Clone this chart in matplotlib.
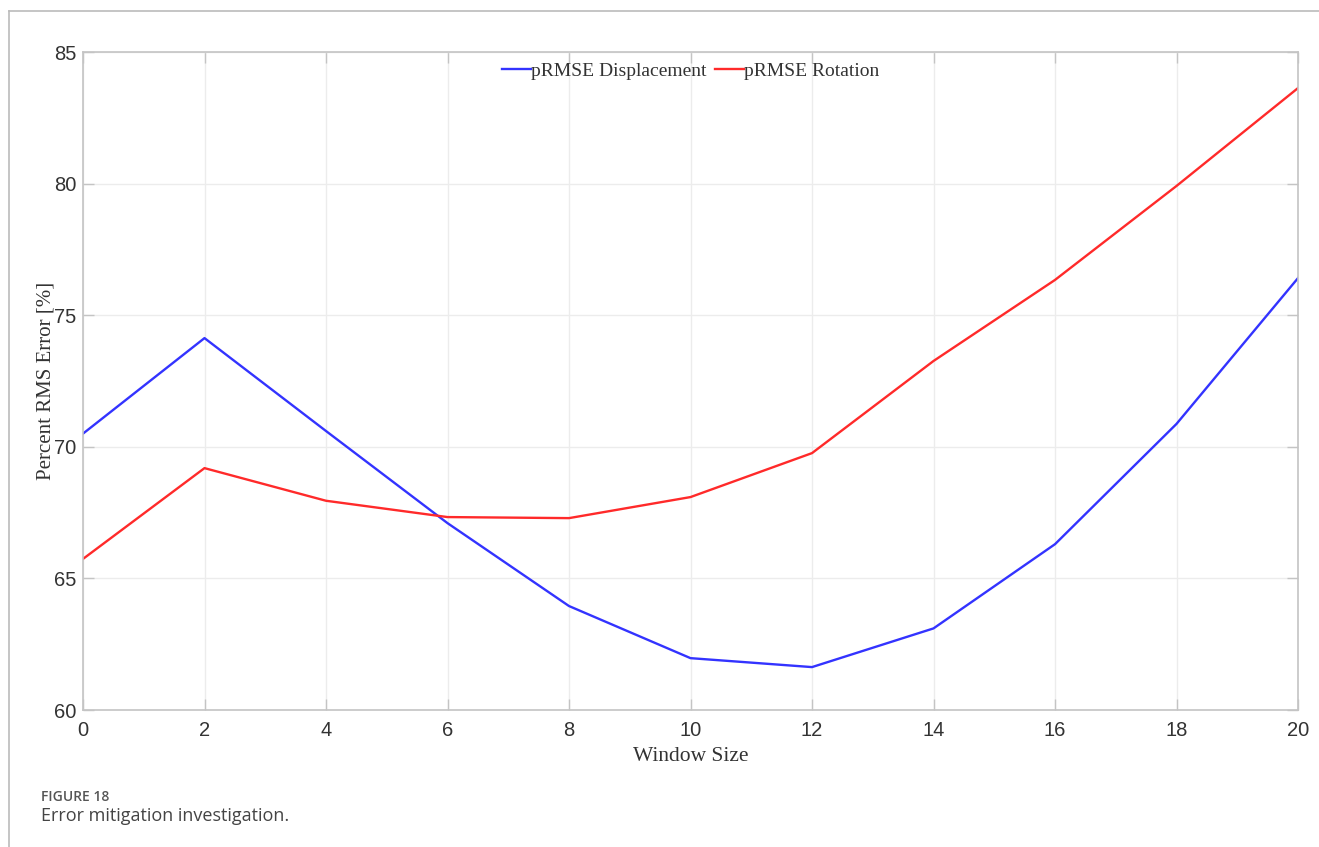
"""
Error mitigation investigation - pRMSE vs window size
"""

import numpy as np
import matplotlib
matplotlib.use('Agg')
import matplotlib.pyplot as plt
from matplotlib.lines import Line2D

window_size = [0, 2, 4, 6, 8, 10, 12, 14, 16, 18, 20]
prmse_disp = [70.5, 74.13, 70.6, 67.1, 63.95, 61.97, 61.63, 63.1, 66.3, 70.87, 76.41]
prmse_rot = [65.74, 69.19, 67.95, 67.33, 67.29, 68.09, 69.76, 73.26, 76.34, 79.91, 83.63]

x_ticks = np.arange(0, 21, 2)
y_ticks = [60, 65, 70, 75, 80, 85]

fig = plt.figure(figsize=(13.19, 8.47), dpi=100)
ax = fig.add_axes([83/1319, 1 - 710/847, (1298 - 83)/1319, (710 - 52)/847])

ax.plot(window_size, prmse_disp, color='#3333ff', linewidth=1.7, label='pRMSE Displacement')
ax.plot(window_size, prmse_rot, color='#ff2a2a', linewidth=1.7, label='pRMSE Rotation')

ax.set_xlim(0, 20)
ax.set_ylim(60, 85)
ax.set_xticks(x_ticks)
ax.set_yticks(y_ticks)
ax.grid(True, color='#ececec', linewidth=1.0)
ax.set_axisbelow(True)

for side in ax.spines.values():
    side.set_color('#c4c4c4')
    side.set_linewidth(1.2)
ax.tick_params(direction='in', length=8, width=1, color='#c4c4c4',
               top=True, right=True, labelcolor='#333333', labelsize=14.5, pad=5)
for lbl in ax.get_xticklabels() + ax.get_yticklabels():
    lbl.set_family('Liberation Sans')
ax.tick_params(axis='x', pad=8)

ax.set_xlabel('Window Size', family='Liberation Serif', fontsize=15.5, color='#333333', labelpad=5)
ax.set_ylabel('Percent RMS Error [%]', family='Liberation Serif', fontsize=15, color='#333333', labelpad=-1)

ax.legend(loc='upper center', bbox_to_anchor=(0.5, 1.0), ncol=2, frameon=False,
          prop={'family': 'Liberation Serif', 'size': 14}, handlelength=1.5,
          handletextpad=0.0, columnspacing=0.4, labelcolor='#333333',
          borderaxespad=0.15)

# card frame lines (top and left)
fig.add_artist(Line2D([9/1319, 1.0], [1 - 11/847, 1 - 11/847], color='#bbbbbb', linewidth=1.2))
fig.add_artist(Line2D([9/1319, 9/1319], [0.0, 1 - 11/847], color='#bbbbbb', linewidth=1.2))

fig.text(41/1319, 1 - 797/847, 'FIGURE 18', family='Open Sans', fontsize=10,
         fontweight='semibold', color='#555555', va='center', ha='left')
fig.text(41/1319, 1 - 816/847, 'Error mitigation investigation.', family='Open Sans',
         fontsize=13, color='#444444', va='center', ha='left')

fig.savefig('out.png', dpi=100)
plt.close(fig)
